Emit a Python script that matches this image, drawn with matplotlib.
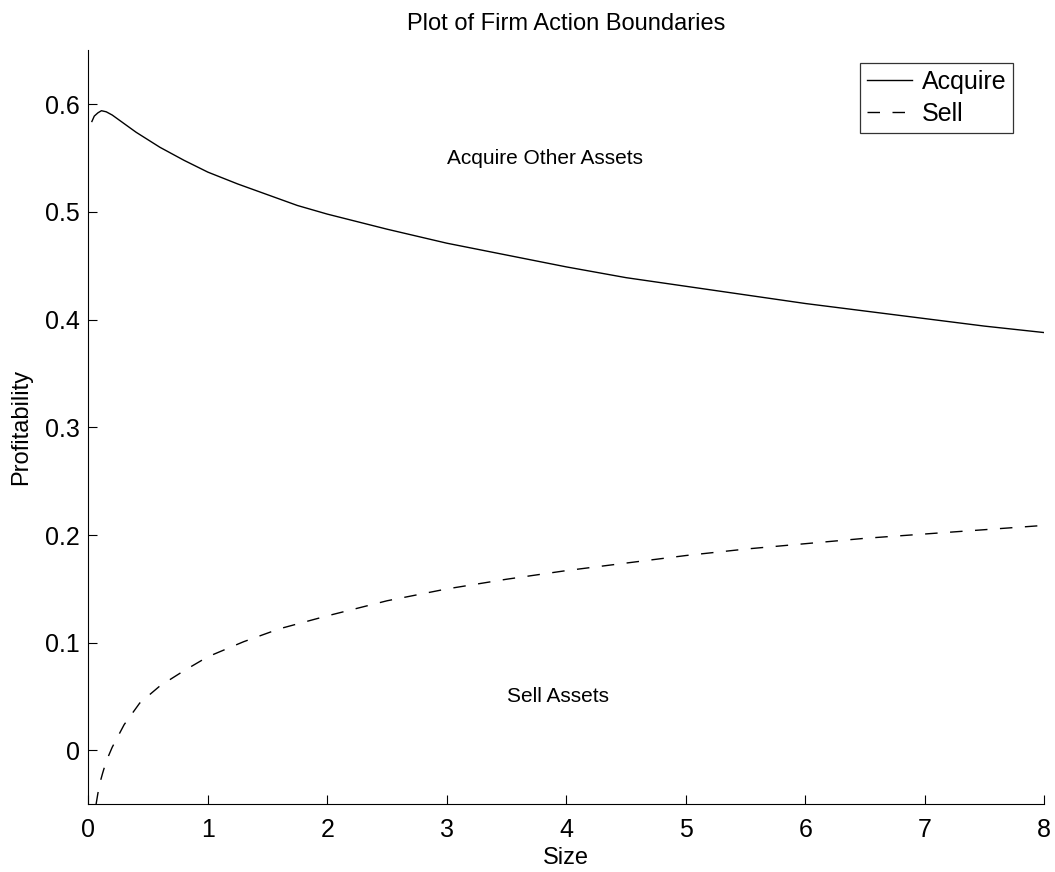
import matplotlib
matplotlib.use('Agg')
import matplotlib.pyplot as plt

plt.rcParams['font.family'] = ['Liberation Sans', 'DejaVu Sans']
plt.rcParams['lines.scale_dashes'] = False

# boundary curves
acquire_x = [0.03, 0.05, 0.08, 0.11, 0.15, 0.2, 0.3, 0.4, 0.5, 0.6, 0.8, 1.0,
             1.25, 1.5, 1.75, 2.0, 2.5, 3.0, 3.5, 4.0, 4.5, 5.0, 5.5, 6.0,
             6.5, 7.0, 7.5, 8.0]
acquire_y = [0.584, 0.589, 0.592, 0.594, 0.593, 0.590, 0.582, 0.574, 0.567,
             0.560, 0.548, 0.537, 0.526, 0.516, 0.506, 0.498, 0.484, 0.471,
             0.460, 0.449, 0.439, 0.431, 0.423, 0.415, 0.408, 0.401, 0.394,
             0.388]

sell_x = [0.065, 0.08, 0.1, 0.12, 0.15, 0.2, 0.3, 0.43, 0.6, 0.8, 1.0, 1.3,
          1.6, 2.0, 2.5, 3.0, 3.5, 4.0, 4.5, 5.0, 5.5, 6.0, 6.5, 7.0, 7.5, 8.0]
sell_y = [-0.05, -0.04, -0.029, -0.021, -0.01, 0.003, 0.024, 0.044, 0.060,
          0.074, 0.087, 0.101, 0.113, 0.125, 0.139, 0.150, 0.159, 0.167,
          0.174, 0.181, 0.187, 0.192, 0.197, 0.201, 0.205, 0.209]

fig = plt.figure(figsize=(10.55, 8.72), dpi=100)
ax = fig.add_axes([0.0837, 0.0776, 0.9062, 0.8646])

ax.plot(acquire_x, acquire_y, color='black', linewidth=1.0, label='Acquire')
ax.plot(sell_x, sell_y, color='black', linewidth=1.0, linestyle=(0, (9, 9)),
        label='Sell')

ax.text(3.0, 0.55, 'Acquire Other Assets', fontsize=15, ha='left', va='center')
ax.text(3.5, 0.05, 'Sell Assets', fontsize=15, ha='left', va='center')

ax.set_xlim(0, 8)
ax.set_ylim(-0.05, 0.65)
ax.set_xticks(range(0, 9))
ax.set_yticks([0, 0.1, 0.2, 0.3, 0.4, 0.5, 0.6])
ax.set_yticklabels(['0', '0.1', '0.2', '0.3', '0.4', '0.5', '0.6'])
ax.tick_params(direction='in', length=6.5, width=0.8, labelsize=18)
ax.tick_params(axis='x', pad=9.5)
ax.tick_params(axis='y', pad=6)
ax.spines['top'].set_visible(False)
ax.spines['right'].set_visible(False)
ax.spines['left'].set_linewidth(0.8)
ax.spines['bottom'].set_linewidth(0.8)

ax.set_title('Plot of Firm Action Boundaries', fontsize=17, pad=14.5)
ax.set_xlabel('Size', fontsize=17, labelpad=4)
ax.set_ylabel('Profitability', fontsize=17, labelpad=9)

leg = ax.legend(loc='upper right', bbox_to_anchor=(0.9673, 0.9837), fontsize=18,
                frameon=True, fancybox=False, handlelength=1.8,
                handletextpad=0.36, borderpad=0.28, labelspacing=0.33,
                borderaxespad=0)
leg.get_frame().set_edgecolor('black')
leg.get_frame().set_linewidth(0.9)

plt.savefig('out.png', dpi=100)
